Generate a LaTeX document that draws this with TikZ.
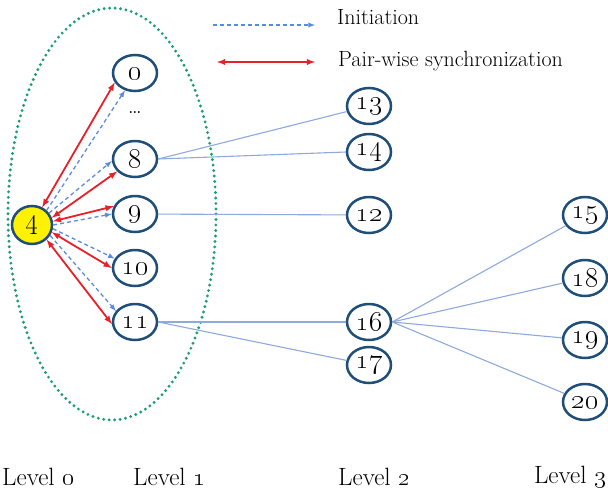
\RequirePackage{fix-cm}
\documentclass[tikz,border=0pt]{standalone}
\usepackage{tikz}
\usetikzlibrary{arrows.meta, positioning, shapes.geometric}
\definecolor{nodeblue}{HTML}{1F4E79}
\definecolor{syncred}{HTML}{E8202A}
\definecolor{initblue}{HTML}{5B8BE0}
\definecolor{linkblue}{HTML}{8EA9DB}
\definecolor{groupgreen}{HTML}{1E9E6E}

\begin{document}
\begin{tikzpicture}[
        x=1pt, y=-1pt,
        peer/.style={ellipse, draw=nodeblue, line width=2.5pt, fill=white, inner sep=0pt,
                     minimum width=44pt, minimum height=36pt, font=\fontsize{28}{30}\selectfont},
        root/.style={peer, fill=yellow, minimum width=40pt, minimum height=38pt},
        sync/.style={latex-latex, syncred, line width=1.8pt},
        init/.style={-latex, initblue, line width=1.3pt, dash pattern=on 4pt off 3pt},
        link/.style={linkblue, line width=1.1pt},
        lbl/.style={anchor=west, inner sep=0pt, font=\fontsize{22}{26}\selectfont},
        level/.style={anchor=west, inner sep=0pt, font=\fontsize{25}{28}\selectfont}
    ]
    \useasboundingbox (0,0) rectangle (608,496);
    % level 1 group
    \draw[groupgreen, line width=3.2pt, line cap=round, dash pattern=on 0pt off 5.5pt]
        (112,214) ellipse [x radius=104, y radius=206];
    % legend
    \coordinate (initA) at (213,25);
    \coordinate (initB) at (315,25);
    \coordinate (syncA) at (217,62);
    \coordinate (syncB) at (315,62);
    \draw[init] (initA) -- (initB);
    \draw[sync] (syncA) -- (syncB);
    \node [lbl, right=22pt of initB, yshift=8pt] (initTxt) {Initiation};
    \node [lbl, right=23pt of syncB, yshift=1pt] (syncTxt) {Pair-wise synchronization};
    % peers
    \node [root] (n4) at (32,225) {\oldstylenums{4}};
    \node [peer] (n0) at (135,73) {\oldstylenums{0}};
    \node [font=\fontsize{24}{28}\selectfont] (gap) at (135,113) {\ldots};
    \node [peer] (n8) at (135,159) {\oldstylenums{8}};
    \node [peer] (n9) at (135,214) {\oldstylenums{9}};
    \node [peer] (n10) at (135,268) {\oldstylenums{10}};
    \node [peer] (n11) at (135,322) {\oldstylenums{11}};
    \node [peer] (n13) at (369,106) {\oldstylenums{13}};
    \node [peer] (n14) at (369,152) {\oldstylenums{14}};
    \node [peer] (n12) at (369,215) {\oldstylenums{12}};
    \node [peer] (n16) at (369,322) {\oldstylenums{16}};
    \node [peer] (n17) at (369,365) {\oldstylenums{17}};
    \node [peer] (n15) at (585,215) {\oldstylenums{15}};
    \node [peer] (n18) at (585,278) {\oldstylenums{18}};
    \node [peer] (n19) at (585,340) {\oldstylenums{19}};
    \node [peer] (n20) at (585,402) {\oldstylenums{20}};
    % pair-wise synchronization
    \draw[sync] (n4.60) -- (n0.205);
    \draw[sync] (n4.20) -- (n8.215);
    \draw[sync] (n4.10) -- (n9.160);
    \draw[sync] (n4.-20) -- (n10.180);
    \draw[sync] (n4.-45) -- (n11.185);
    % initiation
    \draw[init] (n4.45) -- (n0.240);
    \draw[init] (n4.35) -- (n8.185);
    \draw[init] (n4.0) -- (n9.180);
    \draw[init] (n4.-10) -- (n10.155);
    \draw[init] (n4.-30) -- (n11.150);
    % links to the next levels
    \draw[link] (n8.east) -- (n13);
    \draw[link] (n8.east) -- (n14.west);
    \draw[link] (n9) -- (n12);
    \draw[link] (n11.east) -- (n16.west);
    \draw[link] (n11.east) -- (n17);
    \draw[link] (n16.east) -- (n15);
    \draw[link] (n16.east) -- (n18);
    \draw[link] (n16.east) -- (n19);
    \draw[link] (n16.east) -- (n20);
    % levels
    \node [level] (lv0) at (2,477) {Level \oldstylenums{0}};
    \node [level] (lv1) at (133,477) {Level \oldstylenums{1}};
    \node [level] (lv2) at (338,477) {Level \oldstylenums{2}};
    \node [level, anchor=east] (lv3) at (606,477) {Level \oldstylenums{3}};
  \end{tikzpicture}
\end{document}
